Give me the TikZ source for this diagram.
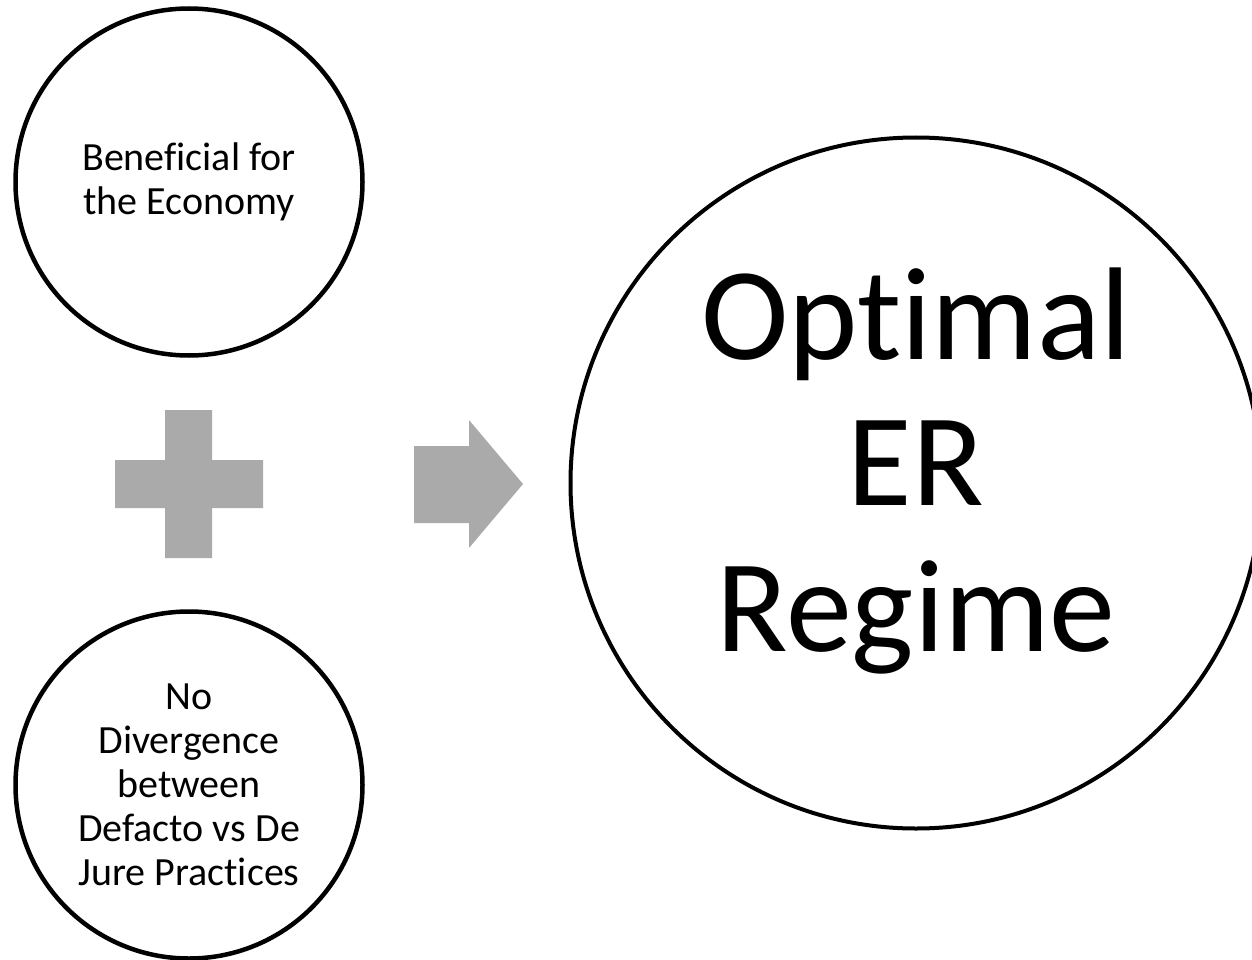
\documentclass[tikz,border=0pt]{standalone}
\usepackage{fontspec}
\setmainfont{Carlito}[Ligatures=CommonOff]
\usepackage{xcolor}
\usepackage{tikz}
\definecolor{abuabu}{HTML}{AAAAAA}

\begin{document}
\begin{tikzpicture}[x=1pt,y=-1pt,
        bulat/.style={circle, draw=black, line width=4.5pt, inner sep=0pt, align=center},
        kecil/.style={bulat, minimum size=347pt, font=\fontsize{40}{44}\selectfont},
        besar/.style={bulat, line width=4pt, minimum size=691pt},
        abu/.style={fill=abuabu, draw=none}]
        \useasboundingbox (0,0) rectangle (1252,960);
        \clip (0,0) rectangle (1252,960);
        %LINGKARAN KIRI
        \node[kecil] (manfaat) at (189,182) {Beneficial for\\the Economy};
        \node[kecil] (praktik) at (189,785) {No\\Divergence\\between\\Defacto vs De\\Jure Practices};
        %LINGKARAN BESAR
        \node[besar] (rezim) at (916,483) {};
        \node[align=center, font=\fontsize{132}{146}\selectfont] (judul) at ([yshift=12pt]rezim.center) {Optimal\\ER\\Regime};
        %TANDA TAMBAH
        \fill[abu] (165,410) -- (212,410) -- (212,460) -- (263,460) -- (263,508) -- (212,508)
            -- (212,558) -- (165,558) -- (165,508) -- (115,508) -- (115,460) -- (165,460) -- cycle;
        %PANAH
        \fill[abu] (414,446) -- (469,446) -- (469,420) -- (523,484) -- (469,548) -- (469,523) -- (414,523) -- cycle;
\end{tikzpicture}
\end{document}
